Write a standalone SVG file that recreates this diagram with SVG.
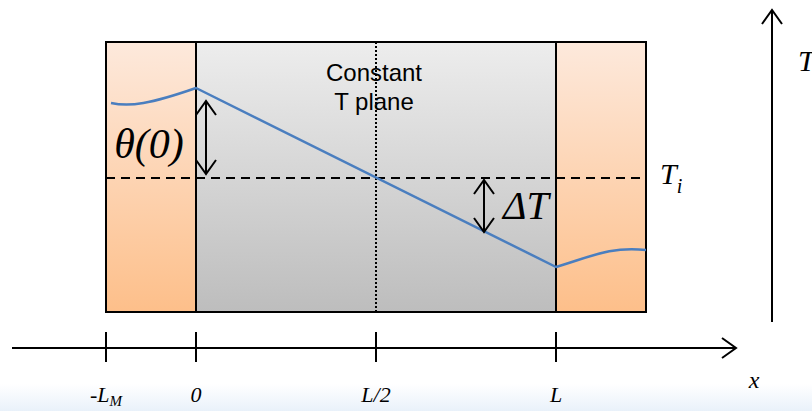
<svg xmlns="http://www.w3.org/2000/svg" width="812" height="411" viewBox="0 0 812 411">
<defs>
<linearGradient id="orange" x1="0" y1="0" x2="0" y2="1">
<stop offset="0" stop-color="#fde9dc"/>
<stop offset="1" stop-color="#fdbf8a"/>
</linearGradient>
<linearGradient id="gray" x1="0" y1="0" x2="0" y2="1">
<stop offset="0" stop-color="#ededed"/>
<stop offset="1" stop-color="#bdbdbd"/>
</linearGradient>
<linearGradient id="band" x1="0" y1="0" x2="0" y2="1">
<stop offset="0" stop-color="#ffffff"/>
<stop offset="1" stop-color="#e9f1fa"/>
</linearGradient>
<marker id="open" markerWidth="18" markerHeight="22" refX="15" refY="11" orient="auto-start-reverse" markerUnits="userSpaceOnUse">
<path d="M1,1 L15,11 L1,21" fill="none" stroke="#000" stroke-width="2"/>
</marker>
</defs>
<style>
.box{stroke:#000;stroke-width:2}
.ax{stroke:#000;stroke-width:2;fill:none}
.math{font-family:"Liberation Serif",serif;font-style:italic;fill:#000}
.sans{font-family:"Liberation Sans",Arial,sans-serif;fill:#000}
.blue{stroke:#4a7ebf;stroke-width:2.5;fill:none}
</style>
<rect x="0" y="384" width="812" height="27" fill="url(#band)"/>
<g id="left-block"><rect class="box" x="106" y="42" width="90" height="270" fill="url(#orange)"/></g>
<g id="middle-block"><rect class="box" x="196" y="42" width="360" height="270" fill="url(#gray)"/></g>
<g id="right-block"><rect class="box" x="556" y="42" width="90" height="270" fill="url(#orange)"/></g>
<g id="connectors">
<line x1="376" y1="42" x2="376" y2="312" stroke="#000" stroke-width="2" stroke-dasharray="2,2"/>
<line x1="106" y1="178" x2="644" y2="178" stroke="#000" stroke-width="2" stroke-dasharray="9,6"/>
<path class="blue" d="M111,103 C130,107 150,104 196,88 L556,267 C590,257 610,246 646,250"/>
<line class="ax" x1="206" y1="101" x2="206" y2="174" marker-start="url(#open)" marker-end="url(#open)"/>
<line class="ax" x1="484" y1="180" x2="484" y2="232" marker-start="url(#open)" marker-end="url(#open)"/>
<line class="ax" x1="12" y1="348" x2="736" y2="348" marker-end="url(#open)"/>
<line class="ax" x1="772" y1="322" x2="772" y2="10" marker-end="url(#open)"/>
<line class="ax" x1="106" y1="332" x2="106" y2="362"/>
<line class="ax" x1="196" y1="332" x2="196" y2="362"/>
<line class="ax" x1="376" y1="332" x2="376" y2="362"/>
<line class="ax" x1="556" y1="332" x2="556" y2="362"/>
</g>
<g id="labels">
<text class="sans" x="374" y="81" font-size="24" text-anchor="middle">Constant</text>
<text class="sans" x="374" y="110" font-size="24" text-anchor="middle">T plane</text>
<text class="math" x="149" y="158" font-size="42" text-anchor="middle">θ(0)</text>
<text class="math" x="503" y="219" font-size="40">ΔT</text>
<text class="math" x="660" y="184" font-size="30">T<tspan font-size="20" dy="9">i</tspan></text>
<text class="math" x="798" y="71" font-size="30">T</text>
<text class="math" x="106" y="402" font-size="22" text-anchor="middle">-L<tspan font-size="15" dy="4">M</tspan></text>
<text class="math" x="196" y="402" font-size="22" text-anchor="middle">0</text>
<text class="math" x="376" y="402" font-size="22" text-anchor="middle">L/2</text>
<text class="math" x="556" y="402" font-size="22" text-anchor="middle">L</text>
<text class="math" x="754" y="388" font-size="24" text-anchor="middle">x</text>
</g>
</svg>
